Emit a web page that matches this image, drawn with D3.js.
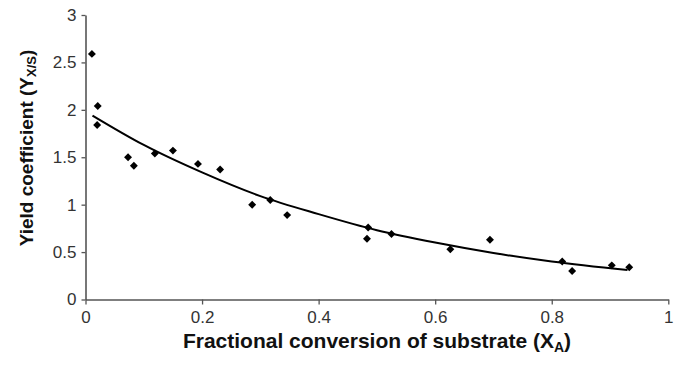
<!DOCTYPE html>
<html>
<head>
<meta charset="utf-8">
<script src="https://cdn.jsdelivr.net/npm/d3@7"></script>
<style>
  body { margin: 0; background: #fff; }
  svg { display: block; }
</style>
</head>
<body>
<svg id="chart" width="683" height="365"></svg>
<script>
const conversion = [0.011, 0.021, 0.020, 0.073, 0.083, 0.119, 0.150, 0.193, 0.231, 0.286, 0.317,
    0.346, 0.483, 0.485, 0.525, 0.626, 0.694, 0.818, 0.835, 0.903, 0.933];
const yieldCoef = [2.59, 2.04, 1.84, 1.50, 1.41, 1.54, 1.57, 1.43, 1.37, 1.00, 1.05,
    0.89, 0.64, 0.76, 0.69, 0.53, 0.63, 0.40, 0.30, 0.36, 0.34];

// fitted trend line
const fitX = [0.012, 0.1, 0.2, 0.3, 0.4, 0.5, 0.6, 0.7, 0.8, 0.93];
const fitY = [1.94, 1.63, 1.34, 1.09, 0.90, 0.73, 0.60, 0.49, 0.40, 0.31];

const xTicks = [0, 0.2, 0.4, 0.6, 0.8, 1];
const yTicks = [0, 0.5, 1, 1.5, 2, 2.5, 3];

(function () {
    let svg = d3.select('#chart'),
        margin = {top: 15, left: 85.5},
        width = 668.3 - margin.left,
        height = 299.5 - margin.top,
        g = svg.append('g').attr('transform', `translate(${margin.left},${margin.top})`);

    let x = d3.scaleLinear().domain([0, 1]).range([0, width]),
        y = d3.scaleLinear().domain([0, 3]).range([height, 0]);

    let xAxis = g.append('g')
        .attr('transform', `translate(0,${height})`)
        .call(d3.axisBottom(x).tickValues(xTicks).tickSize(5).tickSizeOuter(0).tickPadding(6).tickFormat(String));

    let yAxis = g.append('g')
        .call(d3.axisLeft(y).tickValues(yTicks).tickSize(4).tickSizeOuter(0).tickPadding(5).tickFormat(String));

    [xAxis, yAxis].forEach(a => {
        a.select('.domain').attr('stroke', '#555').attr('stroke-width', 1.6);
        a.selectAll('.tick line').attr('stroke', '#555').attr('stroke-width', 1.3);
        a.selectAll('.tick text')
            .attr('fill', '#333')
            .style('font', '17px "Liberation Sans", Arial, sans-serif');
    });

    let fit = fitX.map((v, i) => ({x: v, y: fitY[i]}));
    g.append('path')
        .datum(fit)
        .attr('d', d3.line().curve(d3.curveMonotoneX).x(d => x(d.x)).y(d => y(d.y)))
        .attr('fill', 'none')
        .attr('stroke', '#000')
        .attr('stroke-width', 2);

    let pts = conversion.map((v, i) => ({x: v, y: yieldCoef[i]}));
    g.selectAll('.pt')
        .data(pts)
        .enter().append('path')
        .attr('class', 'pt')
        .attr('transform', d => `translate(${x(d.x)},${y(d.y)})`)
        .attr('d', d3.symbol().type(d3.symbolDiamond2).size(40))
        .attr('fill', '#000');

    // axis titles
    let xt = svg.append('text')
        .attr('x', 377)
        .attr('y', 348)
        .attr('text-anchor', 'middle')
        .style('font', 'bold 21px "Liberation Sans", Arial, sans-serif')
        .attr('fill', '#111')
        .text('Fractional conversion of substrate (X');
    xt.append('tspan').attr('baseline-shift', '-25%').style('font-size', '14px').text('A');
    xt.append('tspan').text(')');

    let yt = svg.append('text')
        .attr('transform', 'translate(33,148) rotate(-90)')
        .attr('text-anchor', 'middle')
        .style('font', 'bold 19px "Liberation Sans", Arial, sans-serif')
        .attr('fill', '#111')
        .text('Yield coefficient (Y');
    yt.append('tspan').attr('baseline-shift', '-25%').style('font-size', '13px').text('X/S');
    yt.append('tspan').text(')');
}());
</script>
</body>
</html>
